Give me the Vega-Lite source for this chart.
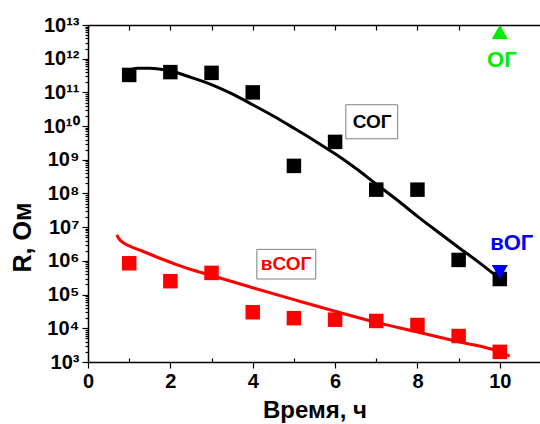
{
  "$schema": "https://vega.github.io/schema/vega-lite/v6.json",
  "width": 453,
  "height": 337,
  "autosize": {"type": "none"},
  "padding": {"left": 88, "top": 25, "right": 0, "bottom": 62},
  "background": "white",
  "config": {
    "view": {"stroke": null},
    "axis": {
      "labelFont": "Liberation Sans",
      "labelFontWeight": "bold",
      "titleFont": "Liberation Sans",
      "titleFontWeight": "bold",
      "domainColor": "black",
      "tickColor": "black",
      "labelColor": "black",
      "titleColor": "black",
      "grid": false,
      "domainWidth": 1.5,
      "tickWidth": 1.2
    }
  },
  "datasets": {
    "points": [
      {"series": "СОГ", "x": 1, "R": 3.3e11},
      {"series": "СОГ", "x": 2, "R": 4.0e11},
      {"series": "СОГ", "x": 3, "R": 3.8e11},
      {"series": "СОГ", "x": 4, "R": 1.0e11},
      {"series": "СОГ", "x": 5, "R": 6.6e8},
      {"series": "СОГ", "x": 6, "R": 3.4e9},
      {"series": "СОГ", "x": 7, "R": 1.3e8},
      {"series": "СОГ", "x": 8, "R": 1.3e8},
      {"series": "СОГ", "x": 9, "R": 1.07e6},
      {"series": "СОГ", "x": 10, "R": 2.9e5},
      {"series": "вСОГ", "x": 1, "R": 8.5e5},
      {"series": "вСОГ", "x": 2, "R": 2.5e5},
      {"series": "вСОГ", "x": 3, "R": 4.4e5},
      {"series": "вСОГ", "x": 4, "R": 3.0e4},
      {"series": "вСОГ", "x": 5, "R": 2.0e4},
      {"series": "вСОГ", "x": 6, "R": 1.8e4},
      {"series": "вСОГ", "x": 7, "R": 1.65e4},
      {"series": "вСОГ", "x": 8, "R": 1.25e4},
      {"series": "вСОГ", "x": 9, "R": 5.9e3},
      {"series": "вСОГ", "x": 10, "R": 2.0e3}
    ],
    "curves": [
      {"series": "СОГ", "x": 0.95, "R": 4.3e11},
      {"series": "СОГ", "x": 1.2, "R": 5.2e11},
      {"series": "СОГ", "x": 1.5, "R": 5.2e11},
      {"series": "СОГ", "x": 2.0, "R": 4.3e11},
      {"series": "СОГ", "x": 2.5, "R": 2.8e11},
      {"series": "СОГ", "x": 3.0, "R": 1.7e11},
      {"series": "СОГ", "x": 3.5, "R": 9.0e10},
      {"series": "СОГ", "x": 4.0, "R": 4.3e10},
      {"series": "СОГ", "x": 4.5, "R": 2.0e10},
      {"series": "СОГ", "x": 5.0, "R": 8.7e9},
      {"series": "СОГ", "x": 5.5, "R": 3.7e9},
      {"series": "СОГ", "x": 6.0, "R": 1.5e9},
      {"series": "СОГ", "x": 6.5, "R": 5.6e8},
      {"series": "СОГ", "x": 7.0, "R": 1.9e8},
      {"series": "СОГ", "x": 7.5, "R": 6.5e7},
      {"series": "СОГ", "x": 8.0, "R": 2.1e7},
      {"series": "СОГ", "x": 8.5, "R": 7.2e6},
      {"series": "СОГ", "x": 9.0, "R": 2.5e6},
      {"series": "СОГ", "x": 9.5, "R": 8.9e5},
      {"series": "СОГ", "x": 10.0, "R": 2.95e5},
      {"series": "вСОГ", "x": 0.7, "R": 5.9e6},
      {"series": "вСОГ", "x": 0.75, "R": 4.6e6},
      {"series": "вСОГ", "x": 0.85, "R": 3.5e6},
      {"series": "вСОГ", "x": 1.0, "R": 2.8e6},
      {"series": "вСОГ", "x": 1.3, "R": 2.0e6},
      {"series": "вСОГ", "x": 1.7, "R": 1.26e6},
      {"series": "вСОГ", "x": 2.2, "R": 7.4e5},
      {"series": "вСОГ", "x": 2.6, "R": 5.1e5},
      {"series": "вСОГ", "x": 3.0, "R": 3.7e5},
      {"series": "вСОГ", "x": 4.0, "R": 1.6e5},
      {"series": "вСОГ", "x": 5.0, "R": 7.1e4},
      {"series": "вСОГ", "x": 6.0, "R": 3.2e4},
      {"series": "вСОГ", "x": 7.0, "R": 1.5e4},
      {"series": "вСОГ", "x": 8.0, "R": 7.8e3},
      {"series": "вСОГ", "x": 9.0, "R": 4.0e3},
      {"series": "вСОГ", "x": 10.0, "R": 2.0e3},
      {"series": "вСОГ", "x": 10.24, "R": 1.5e3}
    ],
    "markers": [
      {"series": "ОГ", "x": 10, "R": 6.2e12},
      {"series": "вОГ", "x": 10, "R": 4.7e5}
    ],
    "boxes": [
      {"series": "СОГ", "x": 6.26, "x2": 7.52, "R": 4.3e10, "R2": 4.2e9},
      {"series": "вСОГ", "x": 4.1, "x2": 5.53, "R": 2.2e6, "R2": 2.9e5}
    ],
    "boxLabels": [
      {"series": "СОГ", "x": 6.9, "R": 1.3e10},
      {"series": "вСОГ", "x": 4.81, "R": 8.1e5}
    ],
    "markerLabels": [
      {"series": "ОГ", "x": 10.05, "R": 9.0e11},
      {"series": "вОГ", "x": 10.29, "R": 3.4e6}
    ]
  },
  "layer": [
    {
      "data": {"name": "curves"},
      "mark": {"type": "line", "strokeWidth": 3, "interpolate": "monotone"},
      "encoding": {
        "x": {
          "field": "x", "type": "quantitative",
          "scale": {"domain": [0, 11], "nice": false, "zero": false},
          "axis": {
            "orient": "bottom",
            "values": [0, 1, 2, 3, 4, 5, 6, 7, 8, 9, 10, 11],
            "labelExpr": "datum.value % 2 == 0 && datum.value <= 10 ? datum.label : ''",
            "tickSize": {"condition": {"test": "datum.value % 2 == 0", "value": 6}, "value": -4},
            "labelFontSize": 20,
            "labelPadding": 3,
            "labelOverlap": false,
            "labelFlush": false,
            "title": "Время, ч",
            "titleFontSize": 24,
            "titlePadding": 7
          }
        },
        "y": {
          "field": "R", "type": "quantitative",
          "scale": {"type": "log", "domain": [1e3, 1e13], "nice": false},
          "axis": {
            "orient": "left",
            "values": [1e3, 2e3, 3e3, 4e3, 5e3, 6e3, 7e3, 8e3, 9e3,
                       1e4, 2e4, 3e4, 4e4, 5e4, 6e4, 7e4, 8e4, 9e4,
                       1e5, 2e5, 3e5, 4e5, 5e5, 6e5, 7e5, 8e5, 9e5,
                       1e6, 2e6, 3e6, 4e6, 5e6, 6e6, 7e6, 8e6, 9e6,
                       1e7, 2e7, 3e7, 4e7, 5e7, 6e7, 7e7, 8e7, 9e7,
                       1e8, 2e8, 3e8, 4e8, 5e8, 6e8, 7e8, 8e8, 9e8,
                       1e9, 2e9, 3e9, 4e9, 5e9, 6e9, 7e9, 8e9, 9e9,
                       1e10, 2e10, 3e10, 4e10, 5e10, 6e10, 7e10, 8e10, 9e10,
                       1e11, 2e11, 3e11, 4e11, 5e11, 6e11, 7e11, 8e11, 9e11,
                       1e12, 2e12, 3e12, 4e12, 5e12, 6e12, 7e12, 8e12, 9e12,
                       1e13],
            "labelExpr": "abs(log(datum.value)/LN10 - round(log(datum.value)/LN10)) < 0.01 ? ['10³','10⁴','10⁵','10⁶','10⁷','10⁸','10⁹','10¹⁰','10¹¹','10¹²','10¹³'][round(log(datum.value)/LN10)-3] : ''",
            "tickSize": {"condition": {"test": "abs(log(datum.value)/LN10 - round(log(datum.value)/LN10)) < 0.01", "value": 6}, "value": 3},
            "labelFontSize": 20,
            "labelPadding": 3,
            "labelOverlap": false,
            "labelFlush": false,
            "title": "R, Ом",
            "titleFontSize": 25,
            "titlePadding": 8,
            "titleY": 212
          }
        },
        "color": {
          "field": "series", "type": "nominal",
          "scale": {"domain": ["СОГ", "вСОГ", "ОГ", "вОГ"], "range": ["#000000", "#ff0000", "#00ee00", "#0000ff"]},
          "legend": null
        }
      }
    },
    {
      "data": {"name": "points"},
      "mark": {"type": "point", "shape": "square", "filled": true, "opacity": 1, "size": 210},
      "encoding": {
        "x": {
          "field": "x", "type": "quantitative",
          "axis": {
            "orient": "top",
            "values": [0, 1, 2, 3, 4, 5, 6, 7, 8, 9, 10, 11],
            "labels": false,
            "tickSize": -5,
            "title": null
          }
        },
        "y": {"field": "R", "type": "quantitative"},
        "color": {"field": "series", "type": "nominal", "legend": null}
      }
    },
    {
      "data": {"name": "markers"},
      "mark": {"type": "point", "filled": true, "opacity": 1, "size": 260},
      "encoding": {
        "x": {"field": "x", "type": "quantitative", "axis": null},
        "y": {"field": "R", "type": "quantitative"},
        "color": {"field": "series", "type": "nominal", "legend": null},
        "shape": {
          "field": "series", "type": "nominal",
          "scale": {"domain": ["ОГ", "вОГ"], "range": ["triangle-up", "triangle-down"]},
          "legend": null
        }
      }
    },
    {
      "data": {"name": "boxes"},
      "mark": {"type": "rect", "fill": "white", "stroke": "#808080", "strokeWidth": 1},
      "encoding": {
        "x": {"field": "x", "type": "quantitative", "axis": null},
        "x2": {"field": "x2"},
        "y": {"field": "R", "type": "quantitative"},
        "y2": {"field": "R2"}
      }
    },
    {
      "data": {"name": "boxLabels"},
      "mark": {"type": "text", "font": "Liberation Sans", "fontWeight": "bold", "fontSize": 19, "baseline": "middle", "align": "center"},
      "encoding": {
        "x": {"field": "x", "type": "quantitative", "axis": null},
        "y": {"field": "R", "type": "quantitative"},
        "text": {"field": "series"},
        "color": {"field": "series", "type": "nominal", "legend": null}
      }
    },
    {
      "data": {"name": "markerLabels"},
      "mark": {"type": "text", "font": "Liberation Sans", "fontWeight": "bold", "fontSize": 22, "baseline": "middle", "align": "center"},
      "encoding": {
        "x": {"field": "x", "type": "quantitative", "axis": null},
        "y": {"field": "R", "type": "quantitative"},
        "text": {"field": "series"},
        "color": {"field": "series", "type": "nominal", "legend": null}
      }
    }
  ],
  "resolve": {"axis": {"x": "independent"}}
}
